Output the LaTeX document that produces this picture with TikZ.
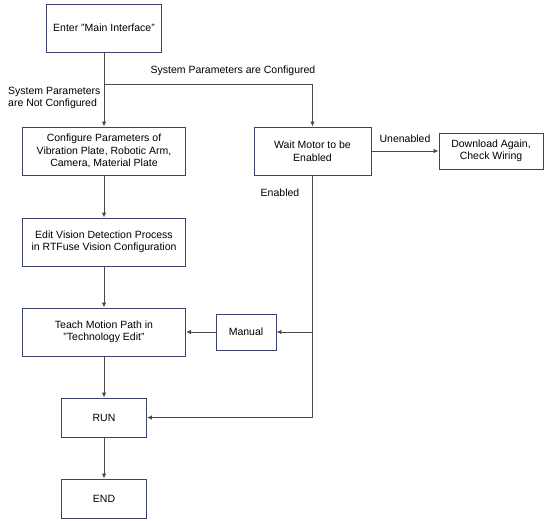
\documentclass[tikz,border=0pt]{standalone}
\usepackage{fontspec}
\setmainfont{Liberation Sans}
\usetikzlibrary{arrows.meta}
\definecolor{boxline}{HTML}{3A4270}
\definecolor{flowline}{HTML}{4A4A4A}
\tikzset{
  box/.style={draw=boxline, line width=0.9pt, align=center, inner sep=2pt,
    font=\fontsize{10.5}{12.5}\selectfont},
  flow/.style={draw=flowline, line width=0.9pt, -{Latex[length=5pt,width=4.5pt]}},
  lbl/.style={font=\fontsize{10.5}{12.5}\selectfont, inner sep=0pt}
}
\begin{document}
\begin{tikzpicture}[x=1pt,y=-1pt]
    \useasboundingbox (0,0) rectangle (546,520);
    \node[box,minimum width=115pt,minimum height=48pt] (enter) at (104,28) {Enter "Main Interface"};
    \node[box,minimum width=163pt,minimum height=48pt] (config) at (104,151) {Configure Parameters of\\Vibration Plate, Robotic Arm,\\Camera, Material Plate};
    \node[box,minimum width=163pt,minimum height=48pt] (vision) at (104,242) {Edit Vision Detection Process\\in RTFuse Vision Configuration};
    \node[box,minimum width=163pt,minimum height=48pt] (teach) at (104,332) {Teach Motion Path in\\"Technology Edit"};
    \node[box,minimum width=85pt,minimum height=39pt] (run) at (104,417.5) {RUN};
    \node[box,minimum width=85pt,minimum height=39pt] (end) at (104,498.5) {END};
    \node[box,minimum width=117pt,minimum height=48pt] (wait) at (312.5,151) {Wait Motor to be\\Enabled};
    \node[box,minimum width=104pt,minimum height=36pt] (download) at (491,151) {Download Again,\\Check Wiring};
    \node[box,minimum width=60pt,minimum height=36pt] (manual) at (246,332) {Manual};
    \coordinate (split) at (104,84);
    \coordinate (manjoin) at (wait.south |- manual);
    % branches after entering
    \draw[flow] (enter) -- (config);
    \draw[flow] (split) -| (wait);
    \draw[flow] (config) -- (vision);
    \draw[flow] (vision) -- (teach);
    \draw[flow] (teach) -- (run);
    \draw[flow] (run) -- (end);
    % motor enable check
    \draw[flow] (wait) -- (download);
    \draw[flow] (wait) |- (run);
    \draw[flow] (manjoin) -- (manual);
    \draw[flow] (manual) -- (teach);
    \node[lbl] (lconf) at (233,71) {System Parameters are Configured};
    \node[lbl,anchor=west,align=left] (lnot) at (8,98) {System Parameters\\are Not Configured};
    \node[lbl] (lon) at (280,193) {Enabled};
    \node[lbl] (loff) at (405,139) {Unenabled};
\end{tikzpicture}
\end{document}
